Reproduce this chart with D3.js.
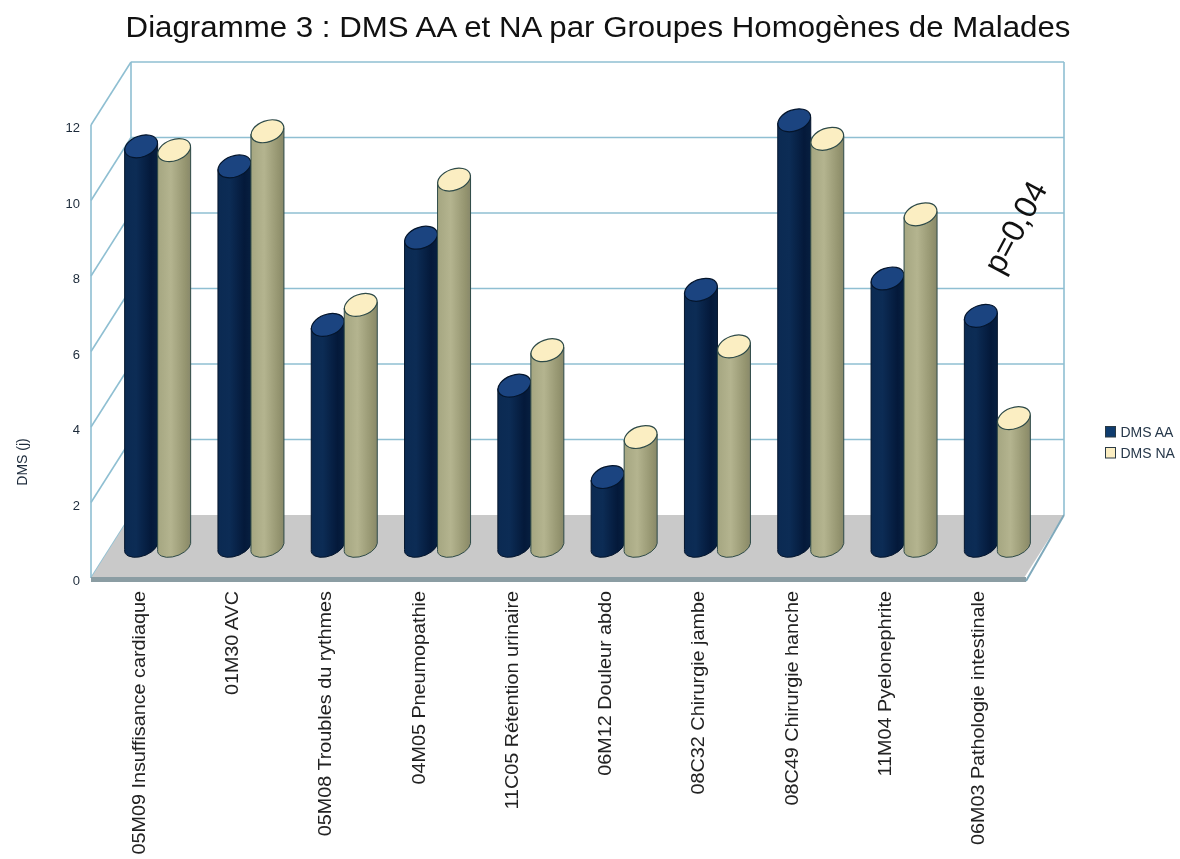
<!DOCTYPE html>
<html>
<head>
<meta charset="utf-8">
<title>Diagramme 3</title>
<script src="https://d3js.org/d3.v7.min.js"></script>
<style>
  body { margin: 0; background: #fff; }
  svg { filter: blur(0.45px); }
  text { font-family: "Liberation Sans", Arial, sans-serif; }
</style>
</head>
<body>
<svg id="chart" width="1180" height="859"></svg>
<script>
// values
var categories = ["05M09 Insuffisance cardiaque", "01M30 AVC", "05M08 Troubles du rythmes", "04M05 Pneumopathie",
  "11C05 Rétention urinaire", "06M12 Douleur abdo", "08C32 Chirurgie jambe", "08C49 Chirurgie hanche",
  "11M04 Pyelonephrite", "06M03 Pathologie intestinale"];
var dmsAA = [10.6, 10.07, 5.87, 8.18, 4.26, 1.84, 6.8, 11.29, 7.1, 6.11];
var dmsNA = [10.5, 11.0, 6.4, 9.72, 5.2, 2.9, 5.3, 10.8, 8.8, 3.4];
var yTicks = [0, 2, 4, 6, 8, 10, 12];
var seriesNames = ["DMS AA", "DMS NA"];

var svg = d3.select("#chart");
var defs = svg.append("defs");

// front plane of the fake 3D box, the back wall is shifted by depth
var x = d3.scaleBand().domain(categories).range([91, 1024]);
var y = d3.scaleLinear().domain([0, 12]).range([578, 125]);
var depthX = 40, depthY = -63;
var gridColor = "#8fbfd2";

function gradient(id, stops) {
  var g = defs.append("linearGradient").attr("id", id);
  stops.forEach(function(s) {
    g.append("stop").attr("offset", s[0]).attr("stop-color", s[1]);
  });
}
gradient("bodyAA", [[0, "#0b2a52"], [0.35, "#0c2c55"], [0.8, "#04193a"], [1, "#071f40"]]);
gradient("bodyNA", [[0, "#a5a681"], [0.4, "#b4b48f"], [0.85, "#94946f"], [1, "#88886a"]]);

// walls
var walls = svg.append("g").attr("fill", "none").attr("stroke", gridColor).attr("stroke-width", 1.6);
yTicks.forEach(function(t) {
  if (t > 0) {
    walls.append("line").attr("x1", 91 + depthX).attr("x2", 1024 + depthX)
      .attr("y1", y(t) + depthY).attr("y2", y(t) + depthY);
  }
  walls.append("line").attr("x1", 91).attr("x2", 91 + depthX)
    .attr("y1", y(t)).attr("y2", y(t) + depthY);
});
walls.append("line").attr("x1", 91).attr("x2", 91).attr("y1", y(0)).attr("y2", y(12));
walls.append("line").attr("x1", 91 + depthX).attr("x2", 91 + depthX).attr("y1", y(0) + depthY).attr("y2", y(12) + depthY);
walls.append("line").attr("x1", 1024 + depthX).attr("x2", 1024 + depthX).attr("y1", y(0) + depthY).attr("y2", y(12) + depthY);

// floor
svg.append("polygon")
  .attr("points", [[91, y(0)], [91 + depthX, y(0) + depthY], [1024 + depthX, y(0) + depthY], [1024, y(0)]].join(" "))
  .attr("fill", "#c9c9c9");
svg.append("rect").attr("x", 91).attr("y", y(0) - 1).attr("width", 1024 - 91 + 2).attr("height", 5).attr("fill", "#8b9da3");
svg.append("line").attr("x1", 1026).attr("y1", y(0) + 3).attr("x2", 1024 + depthX).attr("y2", y(0) + depthY)
  .attr("stroke", "#7fa9bb").attr("stroke-width", 2);

// cylinders
var barW = 33, rY = 10.5, tilt = -20;
function cylinder(group, cx, value, body, cap, edge) {
  var base = y(0) + depthY / 2;
  var top = y(value) + depthY / 2;
  var r = barW / 2;
  group.append("path")
    .attr("d", "M" + (cx - r) + "," + (top + 3) + "L" + (cx - r) + "," + (base + 3)
      + "A" + (r + 0.5) + "," + (rY - 1) + " " + tilt + " 0 0 " + (cx + r) + "," + (base - 3)
      + "L" + (cx + r) + "," + (top - 3) + "Z")
    .attr("fill", "url(#" + body + ")").attr("stroke", edge).attr("stroke-width", 1);
  group.append("ellipse")
    .attr("cx", cx).attr("cy", top).attr("rx", r + 0.5).attr("ry", rY)
    .attr("transform", "rotate(" + tilt + " " + cx + " " + top + ")")
    .attr("fill", cap).attr("stroke", edge).attr("stroke-width", 1.2);
}
var bars = svg.append("g");
categories.forEach(function(c, i) {
  var mid = x(c) + x.bandwidth() / 2 + depthX / 2;
  cylinder(bars, mid - barW / 2, dmsAA[i], "bodyAA", "#1b4480", "#04152c");
  cylinder(bars, mid + barW / 2, dmsNA[i], "bodyNA", "#fbeec2", "#2e4a48");
});

// y axis
var yAxis = svg.append("g").attr("transform", "translate(80,2.5)")
  .call(d3.axisLeft(y).tickValues(yTicks).tickSize(0).tickPadding(0));
yAxis.select(".domain").remove();
yAxis.selectAll("text").attr("font-size", 13).attr("fill", "#1c2a3a").style("font-family", "'Liberation Sans'");

svg.append("text").attr("transform", "translate(27,462) rotate(-90)")
  .attr("text-anchor", "middle").attr("font-size", 14).attr("fill", "#1c2a3a").text("DMS (j)");

// x labels
svg.append("g").selectAll("text").data(categories).enter().append("text")
  .attr("transform", function(d) { return "translate(" + (x(d) + x.bandwidth() / 2 + 7) + ",591) rotate(-90) scale(1.1,1)"; })
  .attr("text-anchor", "end").attr("font-size", 18).attr("fill", "#222").text(function(d) { return d; });

// title
svg.append("text").attr("transform", "translate(598,37) scale(1.06,1)").attr("text-anchor", "middle")
  .attr("font-size", 29.5).attr("fill", "#111").text("Diagramme 3 : DMS AA et NA par Groupes Homogènes de Malades");

// annotation
svg.append("text").attr("transform", "translate(1015,227) rotate(-62)")
  .attr("text-anchor", "middle").attr("dy", "0.35em").attr("font-size", 32).attr("fill", "#111").text("p=0,04");

// legend
var legendColors = ["#0f3c6e", "#fbeec2"];
var legend = svg.append("g").selectAll("g").data(seriesNames).enter().append("g")
  .attr("transform", function(d, i) { return "translate(1105.5," + (426.5 + i * 21) + ")"; });
legend.append("rect").attr("width", 10).attr("height", 10.5)
  .attr("fill", function(d, i) { return legendColors[i]; }).attr("stroke", "#2a3a44");
legend.append("text").attr("x", 15).attr("y", 10.5).attr("font-size", 14).attr("fill", "#27384a")
  .text(function(d) { return d; });
</script>
</body>
</html>
